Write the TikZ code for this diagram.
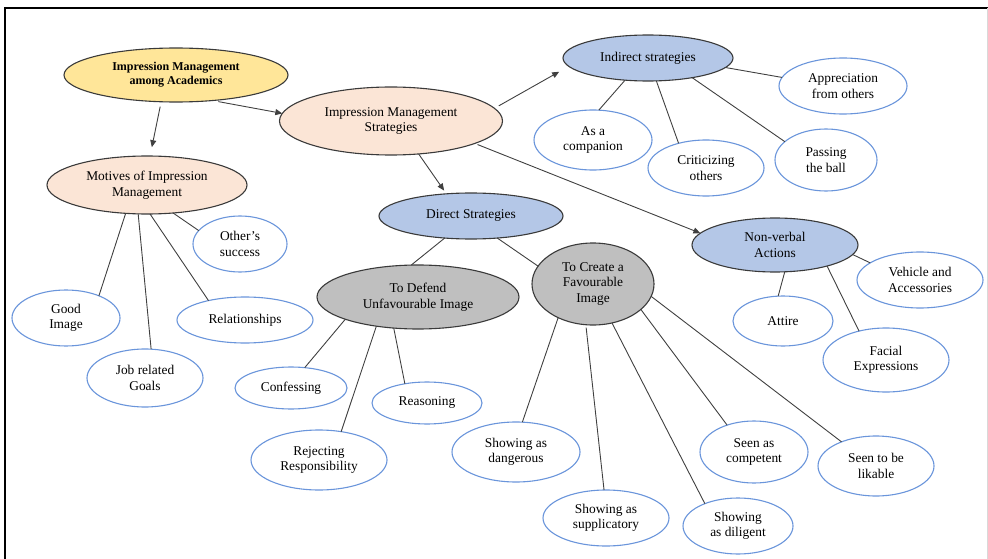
\documentclass[tikz,border=0pt]{standalone}
\usepackage{fontspec}
\setmainfont{Liberation Serif}
\usetikzlibrary{shapes.geometric,arrows.meta}
\definecolor{yel}{HTML}{FFE699}
\definecolor{peach}{HTML}{FBE5D6}
\definecolor{lblue}{HTML}{B4C7E7}
\definecolor{gry}{HTML}{BFBFBF}
\definecolor{edgeblue}{HTML}{6A95DB}
\definecolor{darkline}{HTML}{3A3A3A}
\definecolor{conn}{HTML}{404040}
\tikzset{
  ell/.style={ellipse, inner sep=0pt, outer sep=0pt, align=center,
    font=\rmfamily\fontsize{13.4}{15.5}\selectfont, line width=1.1pt},
  mainell/.style={ell, draw=darkline, fill=yel,
    font=\rmfamily\bfseries\fontsize{12}{14.3}\selectfont},
  peachell/.style={ell, draw=darkline, fill=peach},
  blueell/.style={ell, draw=darkline, fill=lblue},
  grayell/.style={ell, draw=darkline, fill=gry},
  leaf/.style={ell, draw=edgeblue, fill=white},
  link/.style={draw=conn, line width=0.9pt},
  arr/.style={link, -{Triangle[length=7pt,width=6pt]}},
}
\begin{document}
\begin{tikzpicture}[x=1pt,y=-1pt]
\useasboundingbox (0,0) rectangle (988,559);
% frame
\draw[line width=2pt, black] (5,559) -- (5,8) -- (988,8);
\draw[line width=0.6pt, black!15] (987,8) -- (987,559);

% main nodes
\node[mainell, minimum width=224pt, minimum height=54pt] (ima) at (176,75) {Impression Management\\among Academics};
\node[peachell, minimum width=223pt, minimum height=68pt] (ims) at (391,121) {Impression Management\\Strategies};
\node[peachell, minimum width=200pt, minimum height=58pt] (mot) at (147,185) {Motives of Impression\\Management};
\node[blueell, minimum width=184pt, minimum height=46pt] (dir) at (471,216) {Direct Strategies};
\node[blueell, minimum width=170pt, minimum height=46pt] (ind) at (648,58) {Indirect strategies};
\node[blueell, minimum width=166pt, minimum height=54pt] (nv) at (775,245) {Non-verbal\\Actions};
\node[grayell, minimum width=202pt, minimum height=64pt] (def) at (418,297) {To Defend\\Unfavourable Image};
\node[grayell, minimum width=122pt, minimum height=82pt] (cre) at (593,284) {To Create a\\Favourable\\Image};

% leaves: motives
\node[leaf, minimum width=94pt, minimum height=56pt] (oth) at (240,244) {Other’s\\success};
\node[leaf, minimum width=108pt, minimum height=56pt] (good) at (66,318) {Good\\Image};
\node[leaf, minimum width=116pt, minimum height=58pt] (job) at (145,378) {Job related\\Goals};
\node[leaf, minimum width=136pt, minimum height=46pt] (rel) at (245,320) {Relationships};

% leaves: indirect
\node[leaf, minimum width=128pt, minimum height=56pt] (app) at (843,86) {Appreciation\\from others};
\node[leaf, minimum width=118pt, minimum height=60pt] (comp) at (593,140) {As a\\companion};
\node[leaf, minimum width=116pt, minimum height=56pt] (crit) at (706,168) {Criticizing\\others};
\node[leaf, minimum width=102pt, minimum height=62pt] (pass) at (826,160) {Passing\\the ball};

% leaves: non-verbal
\node[leaf, minimum width=126pt, minimum height=56pt] (veh) at (920,280) {Vehicle and\\Accessories};
\node[leaf, minimum width=100pt, minimum height=50pt] (att) at (783,321) {Attire};
\node[leaf, minimum width=126pt, minimum height=64pt] (fac) at (886,360) {Facial\\Expressions};

% leaves: defend
\node[leaf, minimum width=112pt, minimum height=42pt] (conf) at (291,388) {Confessing};
\node[leaf, minimum width=110pt, minimum height=42pt] (reas) at (427,403) {Reasoning};
\node[leaf, minimum width=136pt, minimum height=60pt] (rej) at (319,460) {Rejecting\\Responsibility};

% leaves: create
\node[leaf, minimum width=128pt, minimum height=60pt] (dang) at (516,452) {Showing as\\dangerous};
\node[leaf, minimum width=126pt, minimum height=56pt] (sup) at (606,518) {Showing as\\supplicatory};
\node[leaf, minimum width=110pt, minimum height=56pt] (dil) at (738,526) {Showing\\as diligent};
\node[leaf, minimum width=108pt, minimum height=62pt] (cmp) at (754,452) {Seen as\\competent};
\node[leaf, minimum width=116pt, minimum height=60pt] (lik) at (876,466) {Seen to be\\likable};

% arrows
\draw[arr, shorten <=6pt] (ima.-35) -- (ims.176);
\draw[arr, shorten <=5pt, shorten >=9pt] (ima.-119) -- (mot.84);
\draw[arr, shorten >=4pt] (ims.-50) -- (dir.138);
\draw[arr, shorten <=5pt, shorten >=11pt] (ims.7) -- (ind.-174);
\draw[arr, shorten <=3pt] (ims.-15) -- (nv.171);

% motives
\draw[link] (mot.-127) -- (good.34);
\draw[link] (mot.-107) -- (job.78);
\draw[link] (mot.-84) -- (rel.152);
\draw[link] (mot.-47) -- (oth.162);

% indirect
\draw[link] (ind.-136) -- (comp.79);
\draw[link] (ind.-70) -- (crit.138);
\draw[link] (ind.-24) -- (pass.156);
\draw[link] (ind.-7) -- (app.172);

% non-verbal
\draw[link] (nv.-7) -- (veh.161);
\draw[link] (nv.-70) -- (att.101);
\draw[link] (nv.-22) -- (fac.133);

% direct
\draw[link] (dir.-140) -- (def.102);
\draw[link] (dir.-40) -- (cre.162);

% defend
\draw[link] (def.-163) -- (conf.56);
\draw[link] (def.-145) -- (rej.52);
\draw[link] (def.-128) -- (reas.139);

% create
\draw[link] (cre.-136) -- (dang.78);
\draw[link, shorten <=3pt] (cre.-100) -- (sup.94);
\draw[link] (cre.-64) -- (dil.146);
\draw[link] (cre.-28) -- (cmp.135);
\draw[link] (cre.-12) -- (lik.145);
\end{tikzpicture}
\end{document}
